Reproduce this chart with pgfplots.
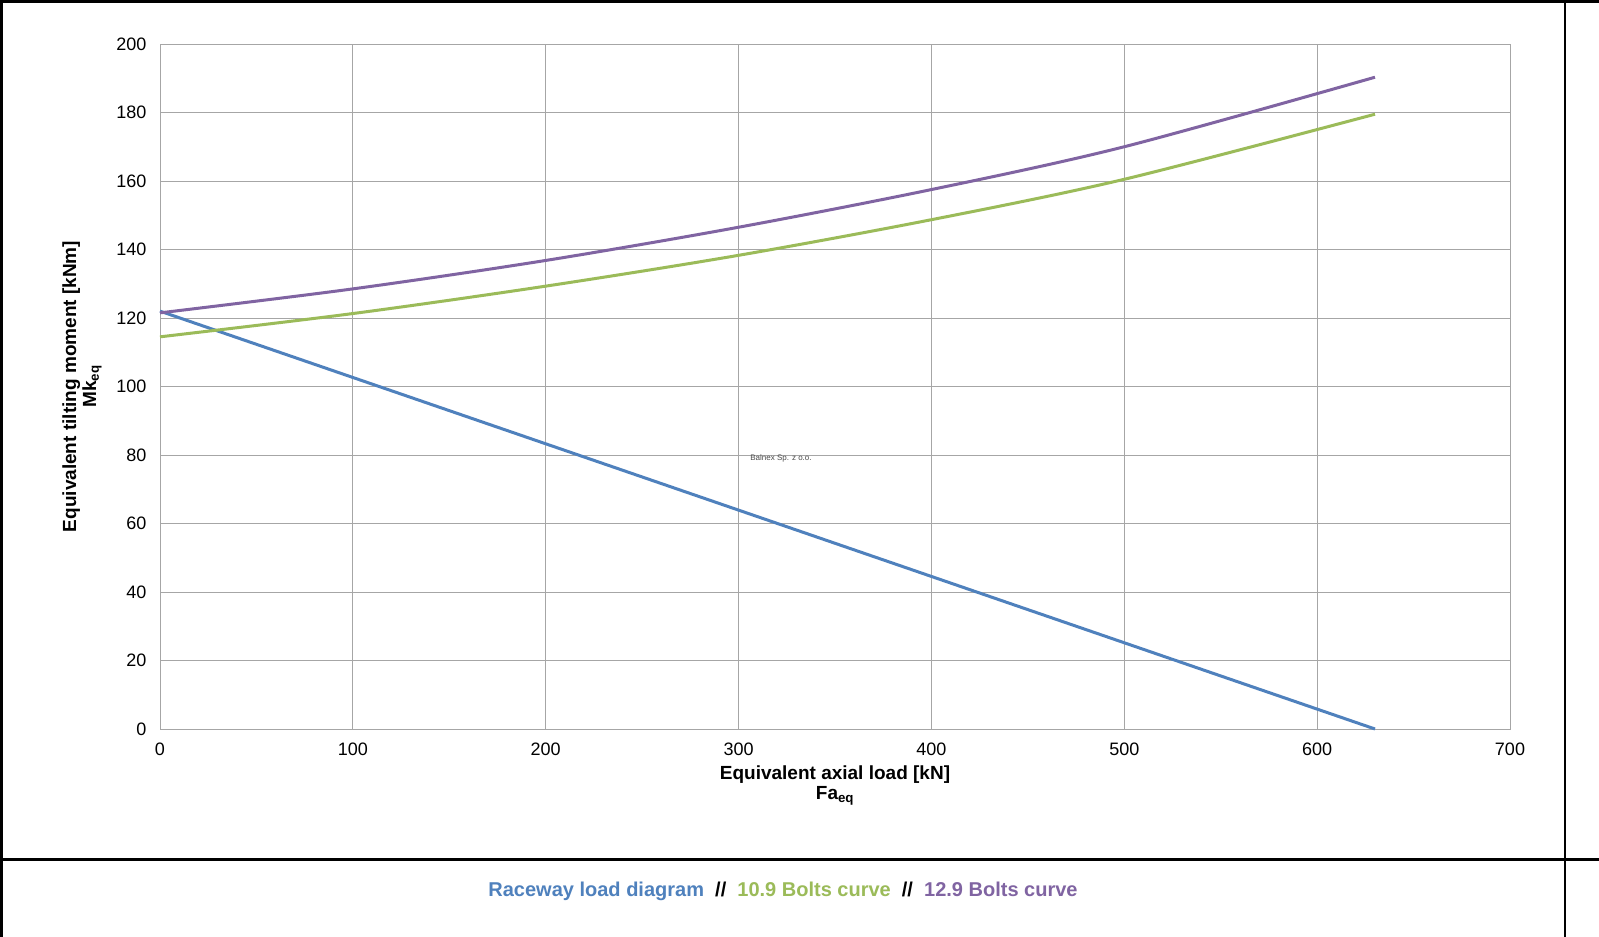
\documentclass[border=0pt]{standalone}
\usepackage{pgfplots}
\pgfplotsset{compat=1.18}
\usepackage{fontspec}
\setmainfont{Liberation Sans}
\definecolor{cblue}{HTML}{4F81BD}
\definecolor{cgreen}{HTML}{9BBB59}
\definecolor{cpurple}{HTML}{8064A2}
\begin{document}
\begin{tikzpicture}[x=1pt,y=1pt]
\path[use as bounding box] (0,0) rectangle (1599,937);
\fill[white] (0,0) rectangle (1599,937);
\draw[line width=3pt] (1.5,937) -- (1.5,0);
\draw[line width=3pt] (0,935.5) -- (1599,935.5);
\draw[line width=2pt] (1565,937) -- (1565,0);
\draw[line width=3pt] (0,77) -- (1599,77);
\begin{axis}[at={(160pt,208pt)},anchor=origin,scale only axis,
  width=1350pt,height=685pt,
  xmin=0,xmax=700,ymin=0,ymax=200,
  xtick={0,100,...,700},ytick={0,20,...,200},
  grid=major,grid style={gray!70,line width=0.8pt},
  axis line style={gray!70,line width=0.8pt},
  tick style={draw=none},
  /pgf/number format/assume math mode=true,
  ticklabel style={font=\fontsize{18}{21}\selectfont},
  xticklabel style={yshift=-10pt},
  yticklabel style={xshift=-10pt},
  xlabel={\textbf{Equivalent axial load [kN]}\\[-2pt]\textbf{Fa\textsubscript{eq}}},
  xlabel style={align=center,font=\fontsize{19}{22}\selectfont,yshift=-4pt},
  ylabel={\textbf{Equivalent tilting moment [kNm]}\\[-2pt]\textbf{Mk\textsubscript{eq}}},
  ylabel style={align=center,font=\fontsize{19}{22}\selectfont,yshift=8pt},
  clip=false]
\addplot[cblue,line width=3pt] coordinates {(0,122) (630,0)};
\addplot[cgreen,line width=3pt,smooth] coordinates {(0,114.5) (100,121.3) (200,129.3) (300,138.3) (400,148.7) (500,160.5) (630,179.5)};
\addplot[cpurple,line width=3pt,smooth] coordinates {(0,121.5) (100,128.5) (200,136.8) (300,146.5) (400,157.5) (500,170) (630,190.3)};
\node[black!70,font=\fontsize{8}{9}\selectfont] at (axis cs:322,79) {Balnex Sp. z o.o.};
\end{axis}
\node[font=\bfseries\fontsize{20}{24}\selectfont] at (783,46) {\textcolor{cblue}{Raceway load diagram}\ \ //\ \ \textcolor{cgreen}{10.9 Bolts curve}\ \ //\ \ \textcolor{cpurple}{12.9 Bolts curve}};
\end{tikzpicture}
\end{document}
